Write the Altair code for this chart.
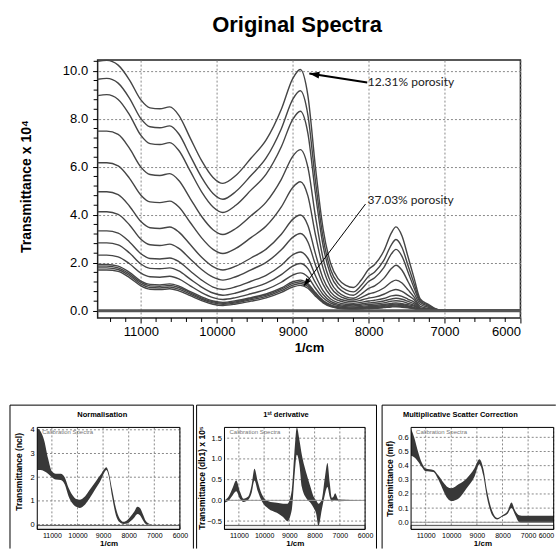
import altair as alt
import pandas as pd

# ---------------- main chart data ----------------
WN = [11570, 11450, 11300, 11150, 11000, 10880, 10750, 10620, 10500, 10350,
      10200, 10050, 9920, 9750, 9550, 9350, 9150, 9000, 8900, 8800,
      8700, 8600, 8500, 8400, 8300, 8200, 8100, 8000, 7920, 7800,
      7700, 7640, 7560, 7480, 7400, 7320, 7220, 7130, 7050, 6000]

C1 = [10.40, 10.44, 10.24, 9.62, 8.79, 8.46, 8.42, 8.50, 8.15, 7.20, 6.26, 5.56, 5.31, 5.64, 6.36, 7.12, 8.40, 9.68, 10.06, 8.97, 5.97, 3.42, 1.97, 1.33, 1.06, 0.97, 1.27, 1.73, 1.93, 2.49, 3.25, 3.50, 3.12, 2.24, 1.35, 0.49, 0.28, 0.10, 0.02, 0.02]
C2 = [9.65, 9.69, 9.49, 8.86, 8.01, 7.67, 7.63, 7.71, 7.37, 6.46, 5.56, 4.89, 4.65, 4.97, 5.64, 6.37, 7.59, 8.81, 9.17, 8.16, 5.40, 3.05, 1.71, 1.13, 0.87, 0.79, 1.05, 1.44, 1.62, 2.10, 2.75, 2.97, 2.64, 1.88, 1.12, 0.42, 0.24, 0.09, 0.02, 0.02]
C3 = [8.97, 9.01, 8.81, 8.17, 7.31, 6.97, 6.93, 7.01, 6.68, 5.82, 4.96, 4.33, 4.10, 4.40, 5.03, 5.70, 6.84, 7.98, 8.32, 7.40, 4.87, 2.72, 1.49, 0.96, 0.73, 0.65, 0.88, 1.22, 1.38, 1.80, 2.37, 2.56, 2.27, 1.61, 0.94, 0.36, 0.20, 0.08, 0.01, 0.01]
C4 = [7.49, 7.49, 7.35, 6.77, 5.99, 5.68, 5.64, 5.72, 5.43, 4.68, 3.93, 3.38, 3.18, 3.43, 3.96, 4.53, 5.48, 6.44, 6.72, 5.98, 3.93, 2.19, 1.20, 0.77, 0.58, 0.52, 0.69, 0.93, 1.04, 1.35, 1.76, 1.90, 1.69, 1.21, 0.73, 0.27, 0.15, 0.06, 0.01, 0.01]
C5 = [6.17, 6.17, 6.04, 5.52, 4.82, 4.54, 4.51, 4.57, 4.33, 3.68, 3.04, 2.56, 2.39, 2.60, 3.05, 3.53, 4.33, 5.14, 5.38, 4.79, 3.16, 1.78, 0.99, 0.65, 0.50, 0.45, 0.55, 0.70, 0.77, 0.95, 1.20, 1.28, 1.16, 0.87, 0.57, 0.18, 0.10, 0.04, 0.01, 0.01]
C6 = [4.96, 4.96, 4.84, 4.36, 3.72, 3.46, 3.43, 3.49, 3.28, 2.76, 2.23, 1.84, 1.70, 1.86, 2.20, 2.57, 3.19, 3.81, 3.99, 3.56, 2.37, 1.35, 0.78, 0.52, 0.42, 0.38, 0.44, 0.53, 0.57, 0.69, 0.84, 0.89, 0.81, 0.64, 0.46, 0.12, 0.07, 0.03, 0.00, 0.00]
C7 = [4.13, 4.13, 4.02, 3.58, 2.98, 2.75, 2.72, 2.78, 2.60, 2.16, 1.72, 1.40, 1.28, 1.42, 1.71, 2.02, 2.54, 3.06, 3.22, 2.87, 1.91, 1.10, 0.63, 0.43, 0.34, 0.31, 0.35, 0.41, 0.44, 0.51, 0.62, 0.65, 0.60, 0.48, 0.36, 0.09, 0.05, 0.02, 0.00, 0.00]
C8 = [3.33, 3.33, 3.24, 2.87, 2.38, 2.18, 2.16, 2.20, 2.05, 1.66, 1.28, 0.99, 0.89, 1.00, 1.23, 1.48, 1.90, 2.33, 2.45, 2.19, 1.46, 0.84, 0.49, 0.34, 0.27, 0.25, 0.28, 0.33, 0.35, 0.41, 0.49, 0.52, 0.48, 0.39, 0.29, 0.07, 0.04, 0.02, 0.00, 0.00]
C9 = [2.83, 2.83, 2.75, 2.41, 1.95, 1.77, 1.75, 1.79, 1.66, 1.32, 0.99, 0.74, 0.65, 0.74, 0.94, 1.15, 1.51, 1.86, 1.97, 1.76, 1.17, 0.68, 0.39, 0.27, 0.22, 0.20, 0.23, 0.27, 0.28, 0.33, 0.40, 0.42, 0.39, 0.31, 0.23, 0.06, 0.03, 0.01, 0.00, 0.00]
C10 = [2.32, 2.32, 2.25, 1.96, 1.57, 1.42, 1.40, 1.44, 1.33, 1.04, 0.76, 0.55, 0.47, 0.55, 0.71, 0.89, 1.19, 1.49, 1.58, 1.41, 0.94, 0.54, 0.32, 0.22, 0.17, 0.16, 0.18, 0.21, 0.22, 0.26, 0.31, 0.33, 0.30, 0.25, 0.19, 0.05, 0.03, 0.01, 0.00, 0.00]
C11 = [1.93, 1.93, 1.86, 1.60, 1.24, 1.10, 1.08, 1.12, 1.03, 0.80, 0.58, 0.41, 0.35, 0.42, 0.55, 0.70, 0.95, 1.21, 1.28, 1.14, 0.76, 0.43, 0.25, 0.17, 0.13, 0.12, 0.14, 0.17, 0.18, 0.22, 0.26, 0.28, 0.26, 0.20, 0.14, 0.04, 0.02, 0.01, 0.00, 0.00]
C12 = [1.86, 1.86, 1.79, 1.53, 1.18, 1.04, 1.02, 1.06, 0.97, 0.75, 0.53, 0.37, 0.31, 0.37, 0.51, 0.65, 0.90, 1.14, 1.21, 1.08, 0.71, 0.40, 0.22, 0.14, 0.11, 0.10, 0.12, 0.14, 0.15, 0.18, 0.23, 0.24, 0.22, 0.17, 0.12, 0.03, 0.02, 0.01, 0.00, 0.00]
C13 = [1.79, 1.79, 1.72, 1.46, 1.11, 0.97, 0.95, 0.99, 0.90, 0.69, 0.48, 0.33, 0.27, 0.33, 0.46, 0.60, 0.84, 1.07, 1.14, 1.01, 0.66, 0.37, 0.20, 0.12, 0.09, 0.08, 0.09, 0.12, 0.13, 0.15, 0.19, 0.20, 0.18, 0.14, 0.10, 0.03, 0.02, 0.01, 0.00, 0.00]
C14 = [1.70, 1.70, 1.64, 1.38, 1.04, 0.90, 0.88, 0.92, 0.83, 0.63, 0.42, 0.27, 0.22, 0.28, 0.40, 0.54, 0.77, 0.99, 1.06, 0.94, 0.61, 0.33, 0.17, 0.10, 0.07, 0.06, 0.07, 0.09, 0.10, 0.13, 0.16, 0.17, 0.15, 0.12, 0.08, 0.02, 0.01, 0.01, 0.00, 0.00]
CURVES = [C1, C2, C3, C4, C5, C6, C7, C8, C9, C10, C11, C12, C13, C14]

X_TICKS = [11000, 10000, 9000, 8000, 7000, 6000]
X_MINOR = [11400, 11200, 10800, 10600, 10400, 10200, 9800, 9600, 9400, 9200,
           8800, 8600, 8400, 8200, 7800, 7600, 7400, 7200, 6800, 6600, 6400, 6200]
Y_TICKS = [0, 2, 4, 6, 8, 10]
Y_MINOR = [0.4, 0.8, 1.2, 1.6, 2.4, 2.8, 3.2, 3.6, 4.4, 4.8, 5.2, 5.6,
           6.4, 6.8, 7.2, 7.6, 8.4, 8.8, 9.2, 9.6, 10.4]

ANN_TEXT = ["12.31% porosity", "37.03% porosity"]
ANN_WN = [8010, 8015]
ANN_VAL = [9.52, 4.61]
ARROW_WN_START = [8018, 8041]
ARROW_VAL_START = [9.52, 4.45]
ARROW_WN_END = [8781, 8855]
ARROW_VAL_END = [9.89, 1.03]
ARROW_WIDTH = [2, 1]

# ---------------- small panels data ----------------
NORM_WN = [11570, 11450, 11300, 11150, 11000, 10850, 10650, 10500, 10350, 10200,
           10050, 9920, 9700, 9500, 9300, 9100, 8950, 8870, 8780, 8650,
           8500, 8350, 8200, 8050, 7920, 7780, 7660, 7560, 7450, 7330, 7200, 7050, 6000]
NORM_HI = [4.05, 3.95, 3.55, 2.8, 2.25, 2.15, 2.15, 2.0, 1.55, 1.25,
           1.08, 1.05, 1.2, 1.5, 1.8, 2.1, 2.35, 2.42, 2.2, 1.5,
           0.7, 0.25, 0.12, 0.2, 0.35, 0.55, 0.75, 0.7, 0.45, 0.15, 0.04, 0.0, 0.0]
NORM_LO = [2.3, 2.3, 2.25, 2.15, 2.0, 1.9, 1.88, 1.7, 1.2, 0.9,
           0.75, 0.7, 0.85, 1.15, 1.5, 1.85, 2.2, 2.3, 2.05, 1.2,
           0.4, 0.1, 0.03, 0.05, 0.15, 0.3, 0.45, 0.4, 0.2, 0.03, 0.0, 0.0, 0.0]

DER_WN = [11570, 11400, 11250, 11107, 10950, 10818, 10620, 10500, 10382, 10250,
          10090, 9828, 9495, 9250, 9076, 8902, 8800, 8704, 8600, 8506,
          8308, 8150, 8046, 7940, 7849, 7714, 7600, 7492, 7400, 7318, 7250, 7188, 7057, 6000]
DER_HI = [0.0, 0.1, 0.3, 0.48, 0.2, 0.04, 0.1, 0.35, 0.76, 0.45,
          0.15, -0.02, -0.06, -0.08, -0.08, 0.25, 1.15, 1.76, 1.45, 1.1,
          0.62, 0.3, 0.1, 0.0, -0.08, 0.02, 0.52, 0.9, 0.42, 0.06, 0.09, 0.17, 0.02, 0.0]
DER_LO = [-0.06, 0.0, 0.12, 0.22, 0.03, -0.04, 0.02, 0.17, 0.48, 0.22,
          -0.02, -0.2, -0.3, -0.4, -0.5, -0.22, 0.55, 1.1, 0.85, 0.32,
          0.03, -0.07, -0.17, -0.32, -0.62, -0.22, 0.12, 0.32, 0.08, -0.03, -0.01, 0.01, -0.02, 0.0]

MSC_WN = [11570, 11450, 11300, 11150, 11000, 10700, 10500, 10300, 10150, 10000,
          9700, 9400, 9100, 8900, 8750, 8600, 8400, 8200, 8000, 7800,
          7650, 7500, 7350, 7250, 6000]
MSC_HI = [0.66, 0.6, 0.5, 0.42, 0.38, 0.37, 0.33, 0.28, 0.25, 0.24,
          0.27, 0.31, 0.38, 0.445, 0.38, 0.22, 0.08, 0.03, 0.05, 0.08,
          0.14, 0.08, 0.05, 0.047, 0.047]
MSC_LO = [0.47, 0.46, 0.43, 0.39, 0.36, 0.355, 0.3, 0.22, 0.17, 0.15,
          0.17, 0.24, 0.32, 0.41, 0.33, 0.17, 0.05, 0.02, 0.04, 0.06,
          0.1, 0.05, 0.0, -0.005, -0.005]

ARIAL = "Liberation Sans, Arial, sans-serif"
ONE = pd.DataFrame({"k": [0]})

# ---------------- main chart ----------------
W, H = 423, 258
xs = alt.Scale(domain=[6000, 11570], reverse=True, nice=False, zero=False)
ys = alt.Scale(domain=[-0.3, 10.45], nice=False, zero=False)
grid_kw = dict(grid=True, gridDash=[2, 2], gridColor="#8a8a8a", gridWidth=1, domain=False)
X = alt.X("wn:Q", scale=xs, axis=alt.Axis(values=X_TICKS, format="d", title="1/cm",
          labelFont=ARIAL, labelFontSize=13, labelPadding=3, tickSize=5, tickColor="black",
          titleFont=ARIAL, titleFontSize=13, titleFontWeight="bold", titlePadding=3, **grid_kw))
Y = alt.Y("val:Q", scale=ys, axis=alt.Axis(values=Y_TICKS, format=".1f", title="Transmittance x 10⁴",
          labelFont=ARIAL, labelFontSize=13, labelPadding=5, tickSize=5, tickColor="black",
          titleFont=ARIAL, titleFontSize=14, titleFontWeight="bold", titleX=-64, titleY=126, **grid_kw))

rows = []
for k, c in enumerate(CURVES):
    for i, w in enumerate(WN):
        rows.append({"wn": w, "val": c[i], "curve": k})
df_main = pd.DataFrame(rows)

curves = alt.Chart(df_main).mark_line(color="#454545", strokeWidth=1.4, interpolate="monotone").encode(
    x=X, y=Y, detail="curve:N")
zero_line = alt.Chart(pd.DataFrame({"val": [0]})).mark_rule(color="#555555", strokeWidth=3).encode(y=Y)
xminor = alt.Chart(pd.DataFrame({"wn": X_MINOR})).mark_rule(color="black", strokeWidth=1).encode(
    x=X, y=alt.value(H), y2=alt.value(H + 4))
yminor = alt.Chart(pd.DataFrame({"val": Y_MINOR})).mark_rule(color="black", strokeWidth=1).encode(
    y=Y, x=alt.value(0), x2=alt.value(-4))
ann = alt.Chart(pd.DataFrame({"wn": ANN_WN, "val": ANN_VAL, "txt": ANN_TEXT})).mark_text(
    align="left", baseline="middle", font="Lato", fontSize=12, color="#222222").encode(x=X, y=Y, text="txt:N")
arrows = alt.Chart(pd.DataFrame({"wn": ARROW_WN_START, "val": ARROW_VAL_START,
                                 "wn2": ARROW_WN_END, "val2": ARROW_VAL_END, "sw": ARROW_WIDTH})).mark_rule(
    color="black").encode(x=X, y=Y, x2="wn2:Q", y2="val2:Q", strokeWidth=alt.StrokeWidth("sw:Q", scale=None))
HEAD = "M0,0L2,-0.7L2,0.7Z"
head1 = alt.Chart(pd.DataFrame({"wn": ARROW_WN_END[:1], "val": ARROW_VAL_END[:1]})).mark_point(
    shape=HEAD, filled=True, color="black", opacity=1, size=100, angle=9).encode(x=X, y=Y)
head2 = alt.Chart(pd.DataFrame({"wn": ARROW_WN_END[1:], "val": ARROW_VAL_END[1:]})).mark_point(
    shape=HEAD, filled=True, color="black", opacity=1, size=64, angle=307).encode(x=X, y=Y)
# white marker fixing the top of the drawing
extent_main = alt.Chart(ONE).mark_rule(color="white", strokeWidth=1).encode(
    x=alt.value(-80), x2=alt.value(-80), y=alt.value(-54.5), y2=alt.value(-50))
title_main = alt.Chart(ONE).mark_text(text="Original Spectra", font=ARIAL, fontSize=22, fontWeight="bold",
                                      color="black", align="center", baseline="alphabetic").encode(
    x=alt.value(199.5), y=alt.value(-28.5))

main = alt.layer(extent_main, title_main, curves, zero_line, xminor, yminor, arrows, head1, head2, ann).properties(
    width=W, height=H, view=alt.ViewBackground(stroke="#222222", strokeWidth=1.5))

spacer = alt.Chart(ONE).mark_point(opacity=0).encode(x=alt.value(0), y=alt.value(0)).properties(
    width=1, height=H, view=alt.ViewBackground(strokeWidth=0))

# ---------------- small panels ----------------
PH = 102
GRID_STYLE = dict(color="#8a8a8a", strokeWidth=1, strokeDash=[2, 2])


def panel(wn, hi, lo, pw, ydom, yticks, yfmt, ytitle, ptitle, title_cx, ytitle_x, ytitle_y,
          fl, fr, ftop_end, zero=False, flush=False):
    ft, fb = -22.3, 121.2
    df = pd.DataFrame({"wn": wn, "hi": hi, "lo": lo})
    pxs = alt.Scale(domain=[6000, 11570], reverse=True, nice=False, zero=False)
    pys = alt.Scale(domain=ydom, nice=False, zero=False)
    PX = alt.X("wn:Q", scale=pxs, axis=alt.Axis(values=X_TICKS, format="d", title="1/cm",
               labelFont=ARIAL, labelFontSize=7, labelPadding=2, labelOverlap=False, labelFlush=flush,
               titleFont=ARIAL, titleFontSize=8, titleFontWeight="bold", titlePadding=1,
               grid=False, domain=False, ticks=False))
    PY = alt.Y("hi:Q", scale=pys, axis=alt.Axis(values=yticks, format=yfmt, title=ytitle,
               labelFont=ARIAL, labelFontSize=7.5, labelPadding=3, labelOverlap=False,
               titleFont=ARIAL, titleFontSize=8.5, titleFontWeight="bold", titleX=ytitle_x, titleY=ytitle_y,
               grid=False, domain=False, ticks=False))
    L = []
    # outer panel frame (left, top, right)
    L.append(alt.Chart(ONE).mark_rule(color="black", strokeWidth=1).encode(
        x=alt.value(fl), x2=alt.value(fl), y=alt.value(ft), y2=alt.value(fb)))
    L.append(alt.Chart(ONE).mark_rule(color="black", strokeWidth=1).encode(
        x=alt.value(fl), x2=alt.value(ftop_end), y=alt.value(ft), y2=alt.value(ft)))
    if fr is not None:
        L.append(alt.Chart(ONE).mark_rule(color="black", strokeWidth=1).encode(
            x=alt.value(fr), x2=alt.value(fr), y=alt.value(ft), y2=alt.value(fb)))
    # grid
    L.append(alt.Chart(pd.DataFrame({"wn": X_TICKS})).mark_rule(**GRID_STYLE).encode(x=PX))
    L.append(alt.Chart(pd.DataFrame({"hi": yticks})).mark_rule(**GRID_STYLE).encode(y=PY))
    # spectra band
    L.append(alt.Chart(df).mark_area(color="#383838", interpolate="monotone").encode(x=PX, y=PY, y2="lo:Q"))
    if zero:
        L.append(alt.Chart(pd.DataFrame({"hi": [0]})).mark_rule(color="#999999", strokeWidth=1).encode(y=PY))
    # bottom bar and plot frame
    L.append(alt.Chart(ONE).mark_rect(fill="#f2f2f2", stroke="#222222", strokeWidth=0.8).encode(
        x=alt.value(0), x2=alt.value(pw), y=alt.value(PH - 4), y2=alt.value(PH)))
    L.append(alt.Chart(ONE).mark_rect(fillOpacity=0, stroke="black", strokeWidth=1).encode(
        x=alt.value(0), x2=alt.value(pw), y=alt.value(0), y2=alt.value(PH)))
    L.append(alt.Chart(ONE).mark_text(text="Calibration Spectra", font=ARIAL, fontSize=6,
                                      color="#777777", align="left", baseline="middle").encode(
        x=alt.value(5), y=alt.value(5)))
    L.append(alt.Chart(ONE).mark_text(text=ptitle, font=ARIAL, fontSize=7.5, fontWeight="bold",
                                      color="black", align="center", baseline="middle").encode(
        x=alt.value(title_cx), y=alt.value(-12.8)))
    return alt.layer(*L).properties(width=pw, height=PH, view=alt.ViewBackground(strokeWidth=0))


p1 = panel(NORM_WN, NORM_HI, NORM_LO, 142.7, [-0.2, 4.1], [0, 1, 2, 3, 4], "d",
           "Transmittance (ncl)", "Normalisation", 65, -14, 44,
           -27.3, 156.2, 156.2)
p2 = panel(DER_WN, DER_HI, DER_LO, 140.7, [-0.7, 1.76], [-0.5, 0, 0.5, 1.0, 1.5], ".1f",
           "Transmittance (db1) x 10⁵", "1ˢᵗ derivative", 61.5, -18.3, 50,
           -27.9, 152.1, 152.1, zero=True)
p3 = panel(MSC_WN, MSC_HI, MSC_LO, 142.7, [-0.05, 0.67], [0, 0.1, 0.2, 0.3, 0.4, 0.5, 0.6], ".1f",
           "Transmittance (mf)", "Multiplicative Scatter Correction", 49.3, -16.4, 51,
           -29, None, 144.8, zero=True, flush=True)

# flush layout: positions depend only on view sizes and spacings
# (a nested concat counts as zero height in the outer flush layout)
top_row = alt.hconcat(spacer, main, spacing=59.4, bounds="flush")
bottom = alt.hconcat(p1, alt.hconcat(p2, p3, spacing=45.7, bounds="flush"), spacing=44.3, bounds="flush")
chart = alt.vconcat(top_row, bottom, spacing=367.5, bounds="flush").properties(
    padding={"left": 9.3, "top": 4, "right": 0, "bottom": 0}, background="white"
).configure_axis(labelColor="black", titleColor="black")

chart.save("out.html", embed_options={"renderer": "svg", "actions": False})
